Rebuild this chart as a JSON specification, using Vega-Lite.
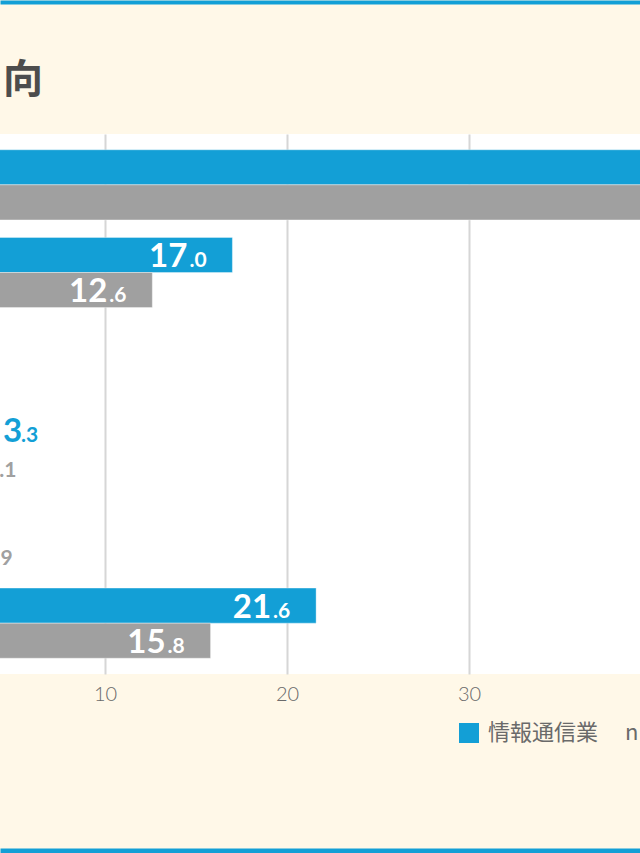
{
  "$schema": "https://vega.github.io/schema/vega-lite/v6.json",
  "width": 640,
  "height": 540,
  "autosize": {"type": "none"},
  "padding": {"left": 0, "top": 134, "right": 0, "bottom": 179},
  "background": "#fff8e8",
  "title": {
    "text": "向",
    "anchor": "start",
    "frame": "group",
    "font": "Noto Sans CJK JP",
    "fontSize": 40,
    "fontWeight": "bold",
    "color": "#4d4d4d",
    "offset": -99,
    "dx": 3
  },
  "layer": [
    {
      "data": {
        "values": [
          {"item": "項目1", "series": "情報通信業", "v": 52.4},
          {"item": "項目1", "series": "全体", "v": 46.8},
          {"item": "項目2", "series": "情報通信業", "v": 17.0},
          {"item": "項目2", "series": "全体", "v": 12.6},
          {"item": "項目3", "series": "情報通信業", "v": 0.8},
          {"item": "項目3", "series": "全体", "v": 0.6},
          {"item": "項目4", "series": "情報通信業", "v": 3.3},
          {"item": "項目4", "series": "全体", "v": 2.1},
          {"item": "項目5", "series": "情報通信業", "v": 1.1},
          {"item": "項目5", "series": "全体", "v": 1.9},
          {"item": "項目6", "series": "情報通信業", "v": 21.6},
          {"item": "項目6", "series": "全体", "v": 15.8}
        ]
      },
      "transform": [
        {"calculate": "split(format(datum.v, '.1f'), '.')[0]", "as": "ip"},
        {"calculate": "'.' + split(format(datum.v, '.1f'), '.')[1]", "as": "dp"}
      ],
      "encoding": {
        "y": {
          "field": "item",
          "type": "nominal",
          "sort": null,
          "axis": null,
          "scale": {"paddingInner": 0.2, "paddingOuter": 0.18}
        },
        "yOffset": {
          "field": "series",
          "type": "nominal",
          "sort": ["情報通信業", "全体"],
          "scale": {"paddingInner": 0, "paddingOuter": 0}
        }
      },
      "layer": [
        {
          "mark": {"type": "bar", "stroke": "#ffffff", "strokeWidth": 0.6, "strokeOpacity": 0.6},
          "encoding": {
            "x": {
              "field": "v",
              "type": "quantitative",
              "scale": {"domain": [4.231, 39.396], "zero": false, "nice": false},
              "axis": {
                "orient": "bottom",
                "values": [0, 10, 20, 30, 40],
                "domain": false,
                "ticks": false,
                "title": null,
                "labelFont": "Lato",
                "labelFontWeight": 300,
                "labelFontSize": 20,
                "labelColor": "#6a6a6a",
                "labelPadding": 10,
                "labelFlush": false,
                "labelOverlap": false,
                "grid": true,
                "gridColor": "#d6d6d6",
                "gridWidth": 2
              }
            },
            "color": {
              "field": "series",
              "type": "nominal",
              "scale": {"domain": ["情報通信業", "全体"], "range": ["#139fd6", "#a0a0a0"]},
              "legend": {
                "orient": "none",
                "legendX": 458,
                "legendY": 588,
                "direction": "horizontal",
                "title": null,
                "padding": 0,
                "symbolType": "square",
                "symbolSize": 400,
                "symbolStrokeWidth": 0,
                "labelFont": "Noto Sans CJK JP",
                "labelFontSize": 22,
                "labelColor": "#6a6a6a",
                "labelOffset": 8,
                "columnPadding": 20,
                "labelLimit": 400,
                "labelExpr": "datum.label == '情報通信業' ? '情報通信業　 n' : datum.label"
              }
            }
          }
        },
        {
          "transform": [{"filter": "datum.v >= 8"}],
          "mark": {"type": "text", "align": "right", "baseline": "alphabetic", "dx": -45, "dy": 12, "font": "Lato", "fontSize": 33, "fontWeight": "bold", "color": "#ffffff"},
          "encoding": {"x": {"field": "v", "type": "quantitative"}, "text": {"field": "ip"}}
        },
        {
          "transform": [{"filter": "datum.v >= 8"}],
          "mark": {"type": "text", "align": "left", "baseline": "alphabetic", "dx": -43, "dy": 12, "font": "Lato", "fontSize": 21, "fontWeight": "bold", "color": "#ffffff"},
          "encoding": {"x": {"field": "v", "type": "quantitative"}, "text": {"field": "dp"}}
        },
        {
          "transform": [{"filter": "datum.v < 8"}],
          "mark": {"type": "text", "align": "right", "baseline": "alphabetic", "dx": 39, "dy": 12, "font": "Lato", "fontSize": 33, "fontWeight": "bold"},
          "encoding": {
            "x": {"field": "v", "type": "quantitative"},
            "text": {"field": "ip"},
            "color": {"field": "series", "type": "nominal", "legend": null}
          }
        },
        {
          "transform": [{"filter": "datum.v < 8"}],
          "mark": {"type": "text", "align": "left", "baseline": "alphabetic", "dx": 38, "dy": 12, "font": "Lato", "fontSize": 21, "fontWeight": "bold"},
          "encoding": {
            "x": {"field": "v", "type": "quantitative"},
            "text": {"field": "dp"},
            "color": {"field": "series", "type": "nominal", "legend": null}
          }
        }
      ]
    },
    {
      "data": {"values": [{"edge": 0}, {"edge": 1}]},
      "mark": {"type": "point", "opacity": 0},
      "encoding": {
        "x": {
          "field": "edge",
          "type": "quantitative",
          "scale": {"domain": [0, 1], "nice": false},
          "axis": {
            "orient": "top",
            "offset": 132,
            "domain": true,
            "domainColor": "#139fd6",
            "domainWidth": 4,
            "ticks": false,
            "labels": false,
            "grid": false,
            "title": null
          }
        }
      }
    },
    {
      "data": {"values": [{"edge": 0}, {"edge": 1}]},
      "mark": {"type": "point", "opacity": 0},
      "encoding": {
        "x": {
          "field": "edge",
          "type": "quantitative",
          "scale": {"domain": [0, 1], "nice": false},
          "axis": {
            "orient": "bottom",
            "offset": 177,
            "domain": true,
            "domainColor": "#139fd6",
            "domainWidth": 6,
            "ticks": false,
            "labels": false,
            "grid": false,
            "title": null
          }
        }
      }
    }
  ],
  "resolve": {"scale": {"x": "independent"}, "axis": {"x": "independent"}},
  "config": {"view": {"fill": "#ffffff", "stroke": null}}
}
